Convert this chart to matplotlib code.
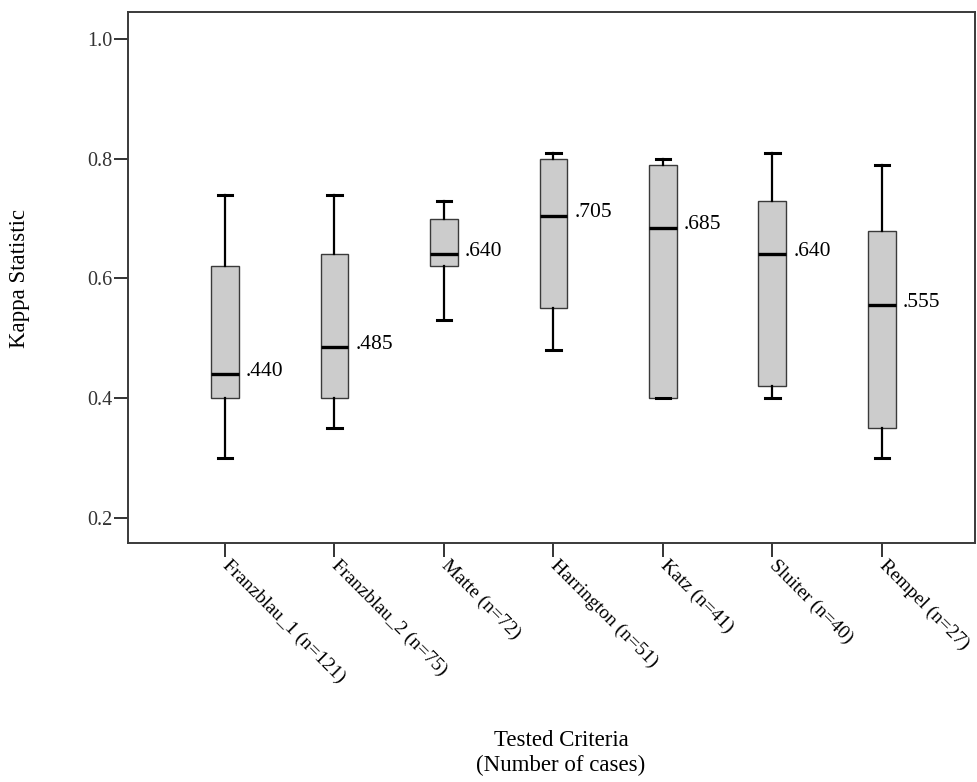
import matplotlib
matplotlib.use("Agg")
import matplotlib.pyplot as plt

categories = ["Franzblau_1 (n=121)", "Franzblau_2 (n=75)", "Matte (n=72)",
              "Harrington (n=51)", "Katz (n=41)", "Sluiter (n=40)", "Rempel (n=27)"]
whisker_low = [0.30, 0.35, 0.53, 0.48, 0.40, 0.40, 0.30]
q1 = [0.40, 0.40, 0.62, 0.55, 0.40, 0.42, 0.35]
medians = [0.440, 0.485, 0.640, 0.705, 0.685, 0.640, 0.555]
q3 = [0.62, 0.64, 0.70, 0.80, 0.79, 0.73, 0.68]
whisker_high = [0.74, 0.74, 0.73, 0.81, 0.80, 0.81, 0.79]
median_labels = [".440", ".485", ".640", ".705", ".685", ".640", ".555"]
yticks = [0.2, 0.4, 0.6, 0.8, 1.0]
ytick_labels = ["0.2", "0.4", "0.6", "0.8", "1.0"]

plt.rcParams['font.family'] = ['Liberation Serif', 'DejaVu Serif']

W, H = 977, 782
fig = plt.figure(figsize=(W / 100, H / 100), dpi=100)
ax = fig.add_axes([128 / W, 1 - 543 / H, (975 - 128) / W, (543 - 12) / H])

stats = []
for lab, lo, a, m, b, hi in zip(categories, whisker_low, q1, medians, q3, whisker_high):
    stats.append(dict(label=lab, whislo=lo, q1=a, med=m, q3=b, whishi=hi, fliers=[]))

positions = list(range(1, len(categories) + 1))
bw = 0.255
ax.bxp(stats, positions=positions, widths=bw, patch_artist=True, showfliers=False,
       boxprops=dict(facecolor='#cccccc', edgecolor='#3a3a3a', linewidth=1.0),
       medianprops=dict(color='black', linewidth=2.4, solid_capstyle='butt'),
       whiskerprops=dict(color='black', linewidth=1.6),
       capprops=dict(color='black', linewidth=2.2),
       capwidths=0.13)

for p, m, t in zip(positions, medians, median_labels):
    ax.annotate(t, xy=(p + bw / 2, m), xytext=(5, 2), textcoords='offset points',
                ha='left', va='center', fontsize=15.5, color='black')

ax.set_xlim(0.114, 7.85)
ax.set_ylim(0.158, 1.045)
ax.set_yticks(yticks)
ax.set_yticklabels(ytick_labels, fontsize=14.5, color='#333333')
ax.set_xticks(positions)
ax.set_xticklabels(categories, rotation=-45, ha='left', va='center',
                   rotation_mode='anchor', fontsize=14)
ax.tick_params(axis='both', direction='out', length=10, width=1.4, color='#333333')
ax.tick_params(axis='y', pad=1)
ax.tick_params(axis='x', pad=4)
for s in ax.spines.values():
    s.set_color('#3a3a3a')
    s.set_linewidth(1.4)

fig.text(20 / W, 1 - 278 / H, "Kappa Statistic", rotation=90, ha='center', va='center',
         fontsize=16.5)
fig.text(561 / W, 1 - 740 / H, "Tested Criteria", ha='center', va='center', fontsize=16.5)
fig.text(561 / W, 1 - 765 / H, "(Number of cases)", ha='center', va='center', fontsize=16.5)

fig.savefig("out.png", dpi=100)
